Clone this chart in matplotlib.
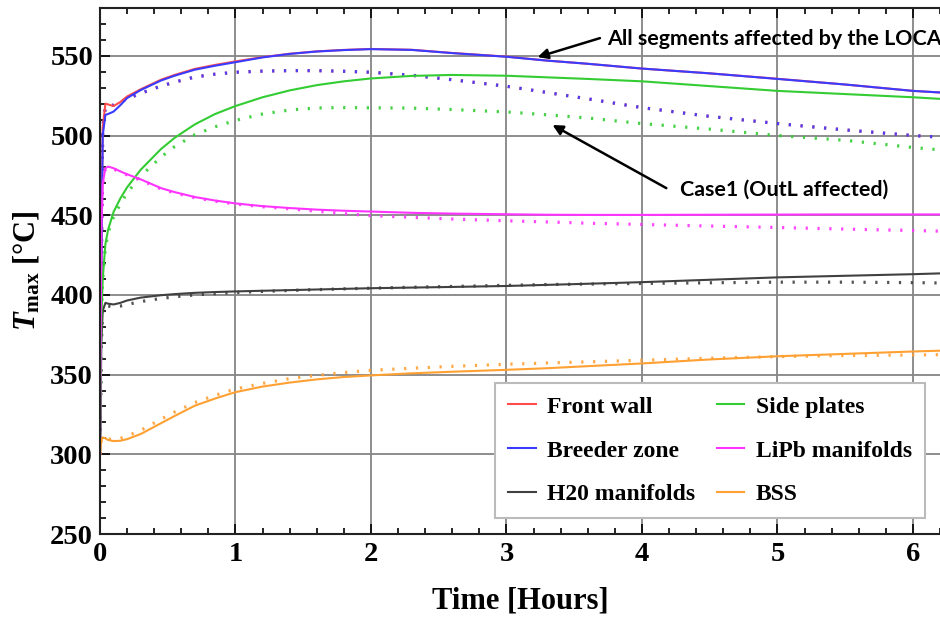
import numpy as np
import matplotlib
matplotlib.use("Agg")
import matplotlib.pyplot as plt
from matplotlib.ticker import MultipleLocator

# time axis [hours]
t = [0, 0.01, 0.02, 0.04, 0.06, 0.1, 0.15, 0.2, 0.3, 0.45, 0.55, 0.7, 0.85, 1.0, 1.2,
     1.4, 1.6, 1.8, 2.0, 2.3, 2.6, 3.0, 3.3, 3.6, 4.0, 4.5, 5.0, 5.5, 6.0, 6.2]

# all segments affected by the LOCA (solid)
front_wall = [300, 420, 505, 520, 519.5, 518.5, 521, 524.5, 529, 535, 538, 541.8, 544.3, 546.5, 549.2,
              551.3, 552.8, 553.7, 554.3, 553.8, 551.8, 549.5, 547, 545, 542, 539, 535.6, 532, 528, 527]
breeder = [300, 415, 500, 513, 513.5, 515, 519, 523.5, 528.5, 534.5, 537.5, 541.3, 543.8, 546, 549,
           551.2, 552.7, 553.6, 554.2, 553.7, 551.7, 549.4, 547, 545, 542, 539, 535.5, 532, 528, 527]
side_plates = [300, 385, 410, 432, 441, 452, 460.5, 467.5, 478.5, 491.5, 498.5, 507, 513.5, 518.5, 524,
               528.3, 531.6, 534, 535.8, 537.4, 538, 537.5, 536.5, 535.5, 534, 531, 528, 526, 524, 523]
lipb = [300, 440, 470, 479.5, 480.5, 479.5, 477.5, 475.7, 472.5, 467, 464.5, 461.4, 459.2, 457.4, 455.7,
        454.5, 453.5, 452.8, 452.3, 451.5, 451, 450.6, 450.3, 450.2, 450.2, 450.3, 450.4, 450.5, 450.5, 450.5]
h2o = [300, 370, 390, 395, 394.5, 394, 395, 396.5, 398.3, 399.8, 400.5, 401.3, 401.8, 402.2, 402.6,
       403, 403.4, 403.8, 404.2, 404.6, 405, 405.6, 406.3, 407, 408, 409.5, 411, 412, 413, 413.5]
bss = [300, 309, 310.6, 310, 309, 308.3, 308.5, 309.5, 312.7, 319.5, 324, 330.5, 335, 339, 342.5,
       345, 347, 348.5, 349.5, 350.8, 351.8, 353, 354, 355.3, 357, 359.5, 361.5, 363, 364.5, 365]

# Case1, OutL affected (dotted)
front_wall_c1 = [300, 420, 505, 518, 519, 519, 521, 523, 526.5, 531, 533.5, 536.7, 538.5, 539.7, 540.4,
                 540.7, 540.7, 540.3, 539.7, 537.8, 535, 530.9, 527, 523, 517.5, 512, 507.5, 503.5, 500, 499]
breeder_c1 = front_wall_c1
side_plates_c1 = [300, 385, 410, 430, 439, 449, 457, 464, 474.5, 486.5, 493, 500.5, 505.5, 509.5, 513.5,
                  516, 517.3, 517.5, 517.4, 517.2, 516.3, 514.8, 513, 511, 507.5, 504, 500, 497, 492.5, 491]
lipb_c1 = [300, 440, 470, 479, 480, 479, 477, 475.3, 472, 466.5, 464, 461, 458.8, 457, 455.3,
           454, 452.5, 451, 449.7, 448.7, 447.6, 446.5, 445.8, 445, 444.2, 443.2, 442.3, 441.3, 440.4, 440]
h2o_c1 = [300, 370, 390, 394, 393, 392.5, 393, 394, 395.8, 397.8, 398.8, 400, 400.8, 401.5, 402.2,
          402.8, 403.3, 403.8, 404.2, 404.8, 405.3, 406, 406.5, 406.8, 407.2, 407.6, 408, 408, 407.7, 407.5]
bss_c1 = [300, 309, 310.6, 310, 309.5, 309.5, 310, 311.5, 315, 322, 326.5, 332.5, 337, 341, 344.5,
          347.5, 349.5, 351.3, 352.7, 354, 355.2, 356.5, 357.3, 358, 359, 360.3, 361.3, 362, 362.3, 362.5]

labels = ["Front wall", "Breeder zone", "H20 manifolds", "Side plates", "LiPb manifolds", "BSS"]
colors = ["#ff4d4d", "#3b3bff", "#404040", "#33cc33", "#ff33ff", "#ffa033"]
solid = [front_wall, breeder, h2o, side_plates, lipb, bss]
dotted = [front_wall_c1, breeder_c1, h2o_c1, side_plates_c1, lipb_c1, bss_c1]

plt.rcParams['font.family'] = ['Liberation Serif', 'DejaVu Serif']
plt.rcParams['font.weight'] = 'bold'
plt.rcParams['mathtext.fontset'] = 'custom'
plt.rcParams['mathtext.rm'] = 'Liberation Serif:bold'
plt.rcParams['mathtext.it'] = 'Liberation Serif:italic:bold'
plt.rcParams['mathtext.bf'] = 'Liberation Serif:bold'

fig = plt.figure(figsize=(9.4, 6.17), dpi=100)
ax = fig.add_axes([100 / 940, 1 - 534 / 617, 840 / 940, 526 / 617])

for ys, c in zip(dotted, colors):
    ax.plot(t, ys, color=c, lw=2.3, linestyle=(0, (0.7, 3.0)), alpha=0.9)
for ys, c, lab in zip(solid, colors, labels):
    ax.plot(t, ys, color=c, lw=1.5, label=lab)

ax.set_xlim(0, 6.2)
ax.set_ylim(250, 580)
ax.xaxis.set_major_locator(MultipleLocator(1))
ax.xaxis.set_minor_locator(MultipleLocator(0.2))
ax.yaxis.set_major_locator(MultipleLocator(50))
ax.yaxis.set_minor_locator(MultipleLocator(10))
ax.tick_params(which='both', direction='in', top=True, right=False, width=1.2)
ax.tick_params(which='major', length=7, labelsize=20.5)
ax.tick_params(axis='y', which='major', pad=5)
ax.tick_params(axis='x', which='major', pad=6)
ax.tick_params(which='minor', length=4)
for lab in ax.get_xticklabels() + ax.get_yticklabels():
    lab.set_fontweight('bold')
ax.grid(True, which='major', color='#858585', lw=1.3)
ax.spines['right'].set_visible(False)
for s in ['left', 'bottom', 'top']:
    ax.spines[s].set_linewidth(1.5)
    ax.spines[s].set_color('#222222')

ax.set_xlabel("Time [Hours]", fontsize=22, fontweight='bold', labelpad=14)
ax.set_ylabel(r"$\mathit{T}_{\mathrm{max}}$ [°C]", fontsize=22, fontweight='bold', labelpad=6)

leg = ax.legend(ncol=2, loc='upper right', bbox_to_anchor=(0.982, 0.287),
                prop={'family': 'Liberation Serif', 'weight': 'bold', 'size': 17},
                frameon=True, fancybox=False, edgecolor='#bbbbbb', framealpha=1,
                handlelength=1.15, labelspacing=0.95, columnspacing=0.9,
                borderpad=0.55, handletextpad=0.5, borderaxespad=0)
leg.get_frame().set_linewidth(1.5)

# annotations
ax.annotate("", xy=(3.23, 549.2), xytext=(3.69, 561.1),
            arrowprops=dict(arrowstyle='-|>', color='black', lw=1.8, mutation_scale=15,
                            shrinkA=0, shrinkB=0))
ax.text(3.74, 560.5, "All segments affected by the LOCA", fontsize=15.4, fontweight='bold',
        family='Lato', va='center', ha='left', clip_on=False)
ax.annotate("", xy=(3.34, 506.6), xytext=(4.18, 467),
            arrowprops=dict(arrowstyle='-|>', color='black', lw=1.8, mutation_scale=15,
                            shrinkA=0, shrinkB=0))
ax.text(4.28, 465.8, "Case1 (OutL affected)", fontsize=15.4, fontweight='bold',
        family='Lato', va='center', ha='left')

fig.savefig("out.png", dpi=100)
